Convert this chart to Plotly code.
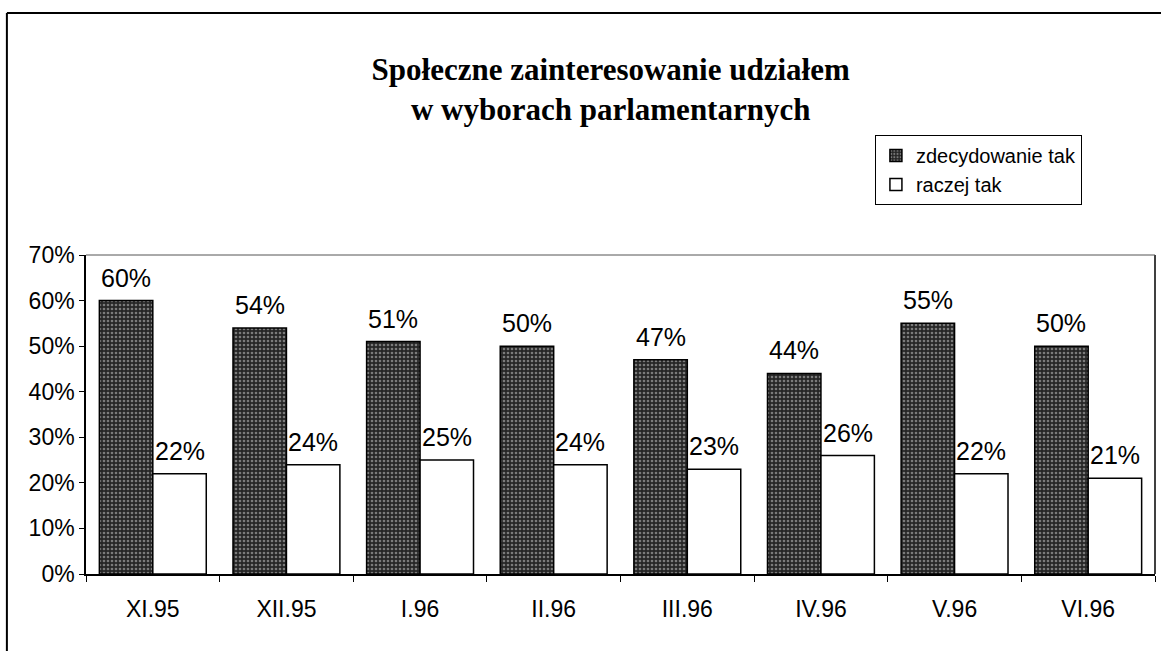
import plotly.graph_objects as go

categories = ["XI.95", "XII.95", "I.96", "II.96", "III.96", "IV.96", "V.96", "VI.96"]
zdecydowanie_tak = [60, 54, 51, 50, 47, 44, 55, 50]
raczej_tak = [22, 24, 25, 24, 23, 26, 22, 21]
y_ticks = [0, 10, 20, 30, 40, 50, 60, 70]

FONT = "Liberation Sans, Arial, sans-serif"

fig = go.Figure()
fig.add_trace(go.Bar(
    name="zdecydowanie tak", x=categories, y=zdecydowanie_tak,
    marker=dict(color="#262626", line=dict(color="black", width=1.5),
                pattern=dict(shape=".", fgcolor="#cfcfcf", size=4, solidity=0.35)),
))
fig.add_trace(go.Bar(
    name="raczej tak", x=categories, y=raczej_tak,
    marker=dict(color="white", line=dict(color="black", width=1.5)),
))

# value labels above bars (offset to each bar of the group)
BAR_SHIFT = 26.7
for series, dx in ((zdecydowanie_tak, -BAR_SHIFT), (raczej_tak, BAR_SHIFT)):
    for cat, v in zip(categories, series):
        fig.add_annotation(x=cat, y=v, xref="x", yref="y", text=f"{v}%",
                           showarrow=False, xshift=dx, yshift=7,
                           xanchor="center", yanchor="bottom",
                           font=dict(family=FONT, size=25, color="black"))

fig.update_layout(
    width=1161, height=651,
    margin=dict(l=86, r=6, t=255, b=77),
    paper_bgcolor="white", plot_bgcolor="white",
    barmode="group", bargap=0.2, bargroupgap=0,
    font=dict(family=FONT, color="black"),
    title=dict(text="<b>Społeczne zainteresowanie udziałem</b><br><b>w wyborach parlamentarnych</b>",
               x=0.526, xanchor="center", y=1 - 80 / 651, yanchor="top",
               font=dict(family="Liberation Serif, Times New Roman, serif", size=31, color="black")),
    legend=dict(x=0.738, y=1.376, xanchor="left", yanchor="top",
                bordercolor="black", borderwidth=1, bgcolor="white",
                font=dict(family=FONT, size=20, color="black"),
                itemwidth=30, tracegroupgap=0),
    showlegend=True,
)
fig.update_xaxes(
    showline=True, linecolor="black", linewidth=1.5, mirror=False,
    ticks="outside", tickson="boundaries", ticklen=6, tickcolor="black",
    ticklabelstandoff=14,
    tickfont=dict(family=FONT, size=23, color="black"), showgrid=False,
)
fig.update_yaxes(
    range=[0, 70], tickvals=y_ticks, ticktext=[f"{v}%" for v in y_ticks],
    showline=True, linecolor="black", linewidth=1.5, mirror=False,
    ticks="outside", ticklen=5, tickcolor="black",
    tickfont=dict(family=FONT, size=23, color="black"), showgrid=False, zeroline=False,
)

# outer frame of the scanned page and plot area edges
fig.add_shape(type="line", xref="paper", yref="paper", x0=-0.074, x1=1.01, y0=1.759, y1=1.759,
              line=dict(color="black", width=2))
fig.add_shape(type="line", xref="paper", yref="paper", x0=-0.074, x1=-0.074, y0=1.759, y1=-0.25,
              line=dict(color="black", width=2))
fig.add_shape(type="line", xref="paper", yref="paper", x0=1, x1=1, y0=0, y1=1,
              line=dict(color="black", width=1.5))
fig.add_shape(type="line", xref="paper", yref="paper", x0=0, x1=1, y0=1, y1=1,
              line=dict(color="#555", width=1))

fig.write_html("out.html", config={"displayModeBar": False},
               post_script="document.body.style.margin='0';")
